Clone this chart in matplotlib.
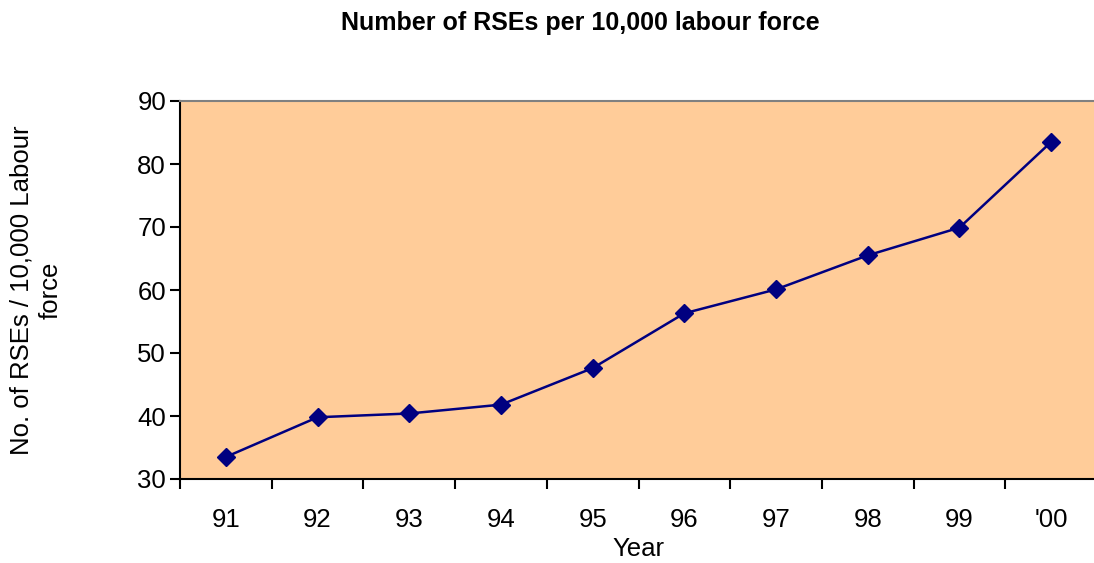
import matplotlib
matplotlib.use("Agg")
import matplotlib.pyplot as plt

plt.rcParams['font.family'] = ['Liberation Sans', 'DejaVu Sans']

years = ["91", "92", "93", "94", "95", "96", "97", "98", "99", "'00"]
rses = [33.5, 39.8, 40.4, 41.8, 47.6, 56.3, 60.1, 65.5, 69.9, 83.5]

W, H = 1094, 563
fig = plt.figure(figsize=(W / 100, H / 100), dpi=100)
left, right, top, bottom = 180, 1097, 101, 479
ax = fig.add_axes([left / W, 1 - bottom / H, (right - left) / W, (bottom - top) / H])
ax.set_facecolor('#FFCC99')

x = list(range(len(years)))
ax.plot(x, rses, color='#000080', linewidth=1.8, marker='D', markersize=9,
        markerfacecolor='#000080', markeredgecolor='#000080', zorder=3)

ax.set_xlim(-0.5, len(years) - 0.5)
ax.set_ylim(30, 90)
ax.set_yticks(range(30, 91, 10))
ax.set_xticks(x)
ax.set_xticklabels(years)
ax.set_xticks([i - 0.5 for i in range(len(years) + 1)], minor=True)
ax.tick_params(axis='x', which='major', length=0, pad=21, labelsize=18.5)
ax.tick_params(axis='x', which='minor', length=7, width=1.5, direction='out', color='black')
ax.tick_params(axis='y', length=7, width=1.5, direction='out', labelsize=18.5, pad=3)

for s in ['left', 'bottom']:
    ax.spines[s].set_color('black')
    ax.spines[s].set_linewidth(1.5)
ax.spines['top'].set_color('#808080')
ax.spines['top'].set_linewidth(1.5)
ax.spines['right'].set_color('#808080')
ax.spines['right'].set_linewidth(1.5)

fig.text(580 / W, 1 - 23 / H, 'Number of RSEs per 10,000 labour force',
         ha='center', va='center', fontsize=18, fontweight='bold')
fig.text(638 / W, 1 - 549 / H, 'Year', ha='center', va='center', fontsize=18.5)
fig.text(36 / W, 1 - 290 / H, 'No. of RSEs / 10,000 Labour\nforce', ha='center',
         va='center', rotation=90, fontsize=18.5, multialignment='center', linespacing=1.25)

fig.savefig('out.png', dpi=100)
